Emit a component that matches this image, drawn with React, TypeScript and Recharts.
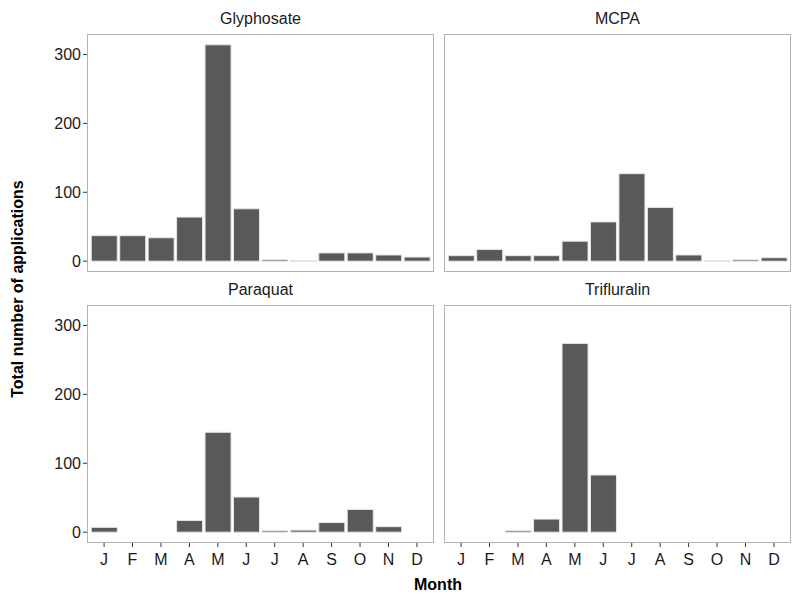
import React from 'react';
import { BarChart, Bar, XAxis, YAxis } from 'recharts';

const months = ['J', 'F', 'M', 'A', 'M', 'J', 'J', 'A', 'S', 'O', 'N', 'D'];
const glyphosate = [37, 37, 34, 64, 314, 76, 2, 1, 12, 12, 9, 6];
const mcpa = [8, 17, 8, 8, 29, 57, 127, 78, 9, 1, 2, 5];
const paraquat: (number | null)[] = [7, null, null, 17, 145, 51, 2, 3, 14, 33, 8, null];
const trifluralin: (number | null)[] = [null, null, 2, 19, 274, 83, null, null, null, null, null, null];
const yTicks = [0, 100, 200, 300];
const panelTitles = ['Glyphosate', 'MCPA', 'Paraquat', 'Trifluralin'];

const FONT = '"Liberation Sans", Arial, Helvetica, sans-serif';
const Y_DOMAIN: [number, number] = [-15.7, 329.7];
const PLOT_W = 347;
const PLOT_H = 238;
const Y_AXIS_W = 87;
const X_AXIS_H = 32;
const COL_X = [87, 444];
const ROW_Y = [34, 305];
const STRIP_TOP = [10, 281];

function buildRows(values: (number | null)[]) {
  return months.map((m, i) => ({ key: `${m}${i}`, month: m, value: values[i] }));
}

const XTick = (props: any) => {
  const { x, y, payload } = props;
  return (
    <text x={x} y={y + 16} textAnchor="middle" fontSize={16} fill="#1a1a1a" fontFamily={FONT}>
      {months[payload.index]}
    </text>
  );
};

function Panel({ values, col, row }: { values: (number | null)[]; col: number; row: number }) {
  const showY = col === 0;
  const showX = row === 1;
  const left = showY ? COL_X[col] - Y_AXIS_W : COL_X[col];
  const width = PLOT_W + (showY ? Y_AXIS_W : 0);
  const height = PLOT_H + (showX ? X_AXIS_H : 0);
  return (
    <div style={{ position: 'absolute', left, top: ROW_Y[row], width, height }}>
      <BarChart
        width={width}
        height={height}
        data={buildRows(values)}
        margin={{ top: 0, right: 0, bottom: 0, left: 0 }}
        barCategoryGap="5%"
      >
        <XAxis
          dataKey="key"
          hide={!showX}
          height={X_AXIS_H}
          padding={{ left: 2.85, right: 2.85 }}
          axisLine={false}
          tickLine={{ stroke: '#333333' }}
          tickSize={4}
          tick={<XTick />}
          interval={0}
        />
        <YAxis
          type="number"
          domain={Y_DOMAIN}
          ticks={yTicks}
          hide={!showY}
          width={Y_AXIS_W}
          axisLine={false}
          tickLine={{ stroke: '#333333' }}
          tickSize={4}
          tickMargin={2}
          allowDataOverflow
          tick={{ fontSize: 16, fill: '#1a1a1a', fontFamily: FONT }}
        />
        <Bar dataKey="value" fill="#595959" stroke="#e6e6e6" strokeWidth={1} isAnimationActive={false} />
      </BarChart>
      <div
        style={{
          position: 'absolute',
          left: showY ? Y_AXIS_W : 0,
          top: 0,
          width: PLOT_W,
          height: PLOT_H,
          boxSizing: 'border-box',
          border: '1px solid #b3b3b3',
          pointerEvents: 'none',
        }}
      />
    </div>
  );
}

export default function App() {
  const series = [glyphosate, mcpa, paraquat, trifluralin];
  return (
    <div
      style={{
        position: 'absolute',
        left: 0,
        top: 0,
        width: 795,
        height: 601,
        background: '#ffffff',
        fontFamily: FONT,
        overflow: 'hidden',
      }}
    >
      {series.map((vals, i) => (
        <Panel key={panelTitles[i]} values={vals} col={i % 2} row={Math.floor(i / 2)} />
      ))}
      {panelTitles.map((t, i) => (
        <div
          key={t}
          style={{
            position: 'absolute',
            left: COL_X[i % 2],
            width: PLOT_W,
            top: STRIP_TOP[Math.floor(i / 2)],
            height: 18,
            lineHeight: '18px',
            textAlign: 'center',
            fontSize: 16,
            color: '#1a1a1a',
          }}
        >
          {t}
        </div>
      ))}
      <div
        style={{
          position: 'absolute',
          left: 18 - 150,
          top: 289 - 10,
          width: 300,
          height: 20,
          lineHeight: '20px',
          textAlign: 'center',
          fontSize: 16,
          fontWeight: 'bold',
          color: '#000000',
          transform: 'rotate(-90deg)',
        }}
      >
        Total number of applications
      </div>
      <div
        style={{
          position: 'absolute',
          left: 438 - 100,
          top: 575,
          width: 200,
          height: 20,
          lineHeight: '20px',
          textAlign: 'center',
          fontSize: 16,
          fontWeight: 'bold',
          color: '#000000',
        }}
      >
        Month
      </div>
    </div>
  );
}
